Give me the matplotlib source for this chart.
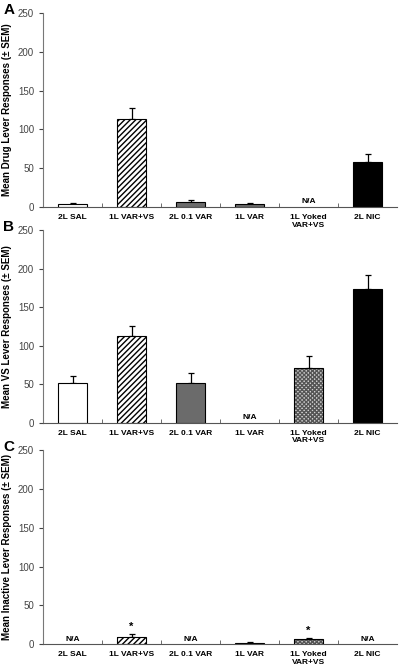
import numpy as np
import matplotlib
matplotlib.use("Agg")
import matplotlib.pyplot as plt

plt.rcParams['font.family'] = ['Liberation Sans', 'DejaVu Sans']

groups = ['2L SAL', '1L VAR+VS', '2L 0.1 VAR', '1L VAR', '1L Yoked\nVAR+VS', '2L NIC']

# means and SEM, None = N/A
drug_mean = [4, 114, 7, 4, None, 58]
drug_sem = [1, 13, 2, 1, None, 10]
vs_mean = [52, 112, 52, None, 71, 174]
vs_sem = [8, 14, 12, None, 16, 17]
inact_mean = [None, 9, None, 2, 7, None]
inact_sem = [None, 4, None, 1, 1.5, None]
inact_star = [False, True, False, False, True, False]

ylabels = ['Mean Drug Lever Responses (± SEM)',
           'Mean VS Lever Responses (± SEM)',
           'Mean Inactive Lever Responses (± SEM)']
letters = ['A', 'B', 'C']

# bar styles: facecolor, hatch, hatch colour
styles = [('white', None, None),
          ('white', '//////', 'black'),
          ('#6b6b6b', None, None),
          ('#6b6b6b', None, None),
          ('#d0d0d0', 'xxxxxxxx', '#555555'),
          ('black', None, None)]

fig = plt.figure(figsize=(4.0, 6.69), dpi=100)
boxes = [[0.1075, 0.6906, 0.885, 0.290],
         [0.1075, 0.3682, 0.885, 0.288],
         [0.1075, 0.0369, 0.885, 0.2905]]
data = [(drug_mean, drug_sem), (vs_mean, vs_sem), (inact_mean, inact_sem)]

x = np.arange(len(groups))
for k in range(3):
    ax = fig.add_axes(boxes[k])
    means, sems = data[k]
    for i in range(len(groups)):
        fc, hatch, hc = styles[i]
        if means[i] is None:
            ax.text(x[i], 2, 'N/A', ha='center', va='bottom', fontsize=6,
                    fontweight='bold')
            continue
        if hatch:
            ax.bar(x[i], means[i], 0.5, color=fc, edgecolor=hc, hatch=hatch,
                   linewidth=0, zorder=2)
            ax.bar(x[i], means[i], 0.5, color='none', edgecolor='black',
                   linewidth=0.8, zorder=3)
        else:
            ax.bar(x[i], means[i], 0.5, color=fc, edgecolor='black',
                   linewidth=0.8, zorder=2)
        ax.errorbar(x[i], means[i], yerr=[[0], [sems[i]]], fmt='none',
                    ecolor='black', elinewidth=0.9, capsize=2, capthick=0.9,
                    zorder=1)
        if k == 2 and inact_star[i]:
            ax.text(x[i], means[i] + sems[i] + 3, '*', ha='center',
                    va='bottom', fontsize=8, fontweight='bold')

    ax.set_xlim(-0.5, len(groups) - 0.5)
    ax.set_ylim(0, 250)
    ax.set_yticks(np.arange(0, 251, 50))
    ax.set_xticks(x)
    ax.set_xticklabels(groups, fontsize=6, fontweight='bold', linespacing=1.15)
    ax.set_xticks(x[:-1] + 0.5, minor=True)
    ax.tick_params(axis='x', which='major', length=0, pad=5)
    ax.tick_params(axis='x', which='minor', length=3, direction='in',
                   color='#555555')
    ax.tick_params(axis='y', labelsize=7, colors='#444444', length=3,
                   direction='out')
    for s in ['top', 'right']:
        ax.spines[s].set_visible(False)
    ax.spines['left'].set_color('#777777')
    ax.spines['bottom'].set_color('#555555')
    ax.set_ylabel(ylabels[k], fontsize=7, fontweight='bold', labelpad=4)
    fig.text(0.008, boxes[k][1] + boxes[k][3] + 0.004, letters[k],
             fontsize=11, fontweight='bold', ha='left', va='center')

fig.savefig('out.png', dpi=100)
